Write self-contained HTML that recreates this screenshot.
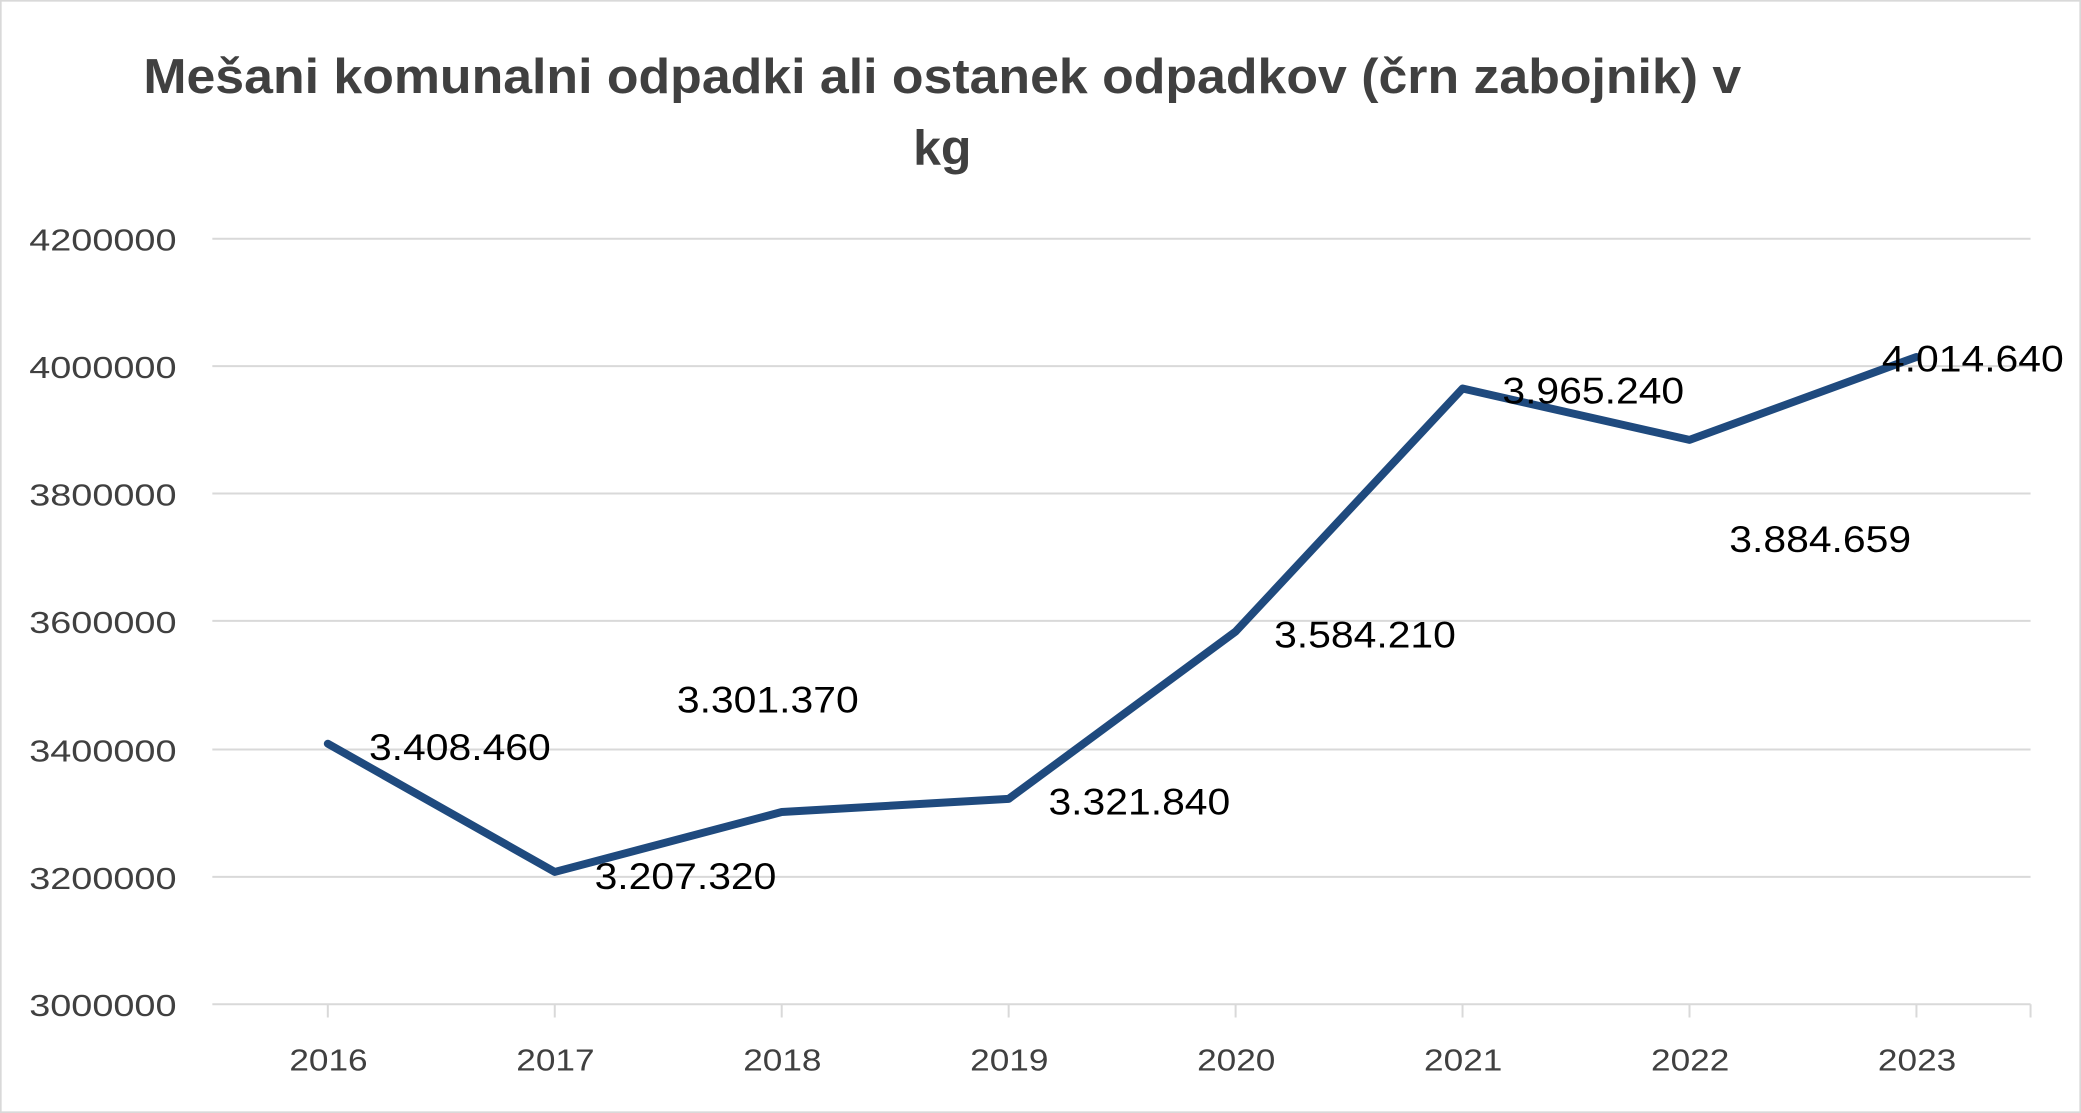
<!DOCTYPE html>
<html><head><meta charset="utf-8"><style>
html,body{margin:0;padding:0;background:#fff;}
svg{display:block;}
</style></head><body>
<svg width="2081" height="1113" viewBox="0 0 1568 839" xmlns="http://www.w3.org/2000/svg" preserveAspectRatio="none">
<rect x="0.5" y="0.5" width="1567" height="838" fill="#fff" stroke="#d9d9d9" stroke-width="1.5"/>
<g font-family="Liberation Sans, sans-serif" font-weight="bold" font-size="37" fill="#404040">
<text x="108" y="70" textLength="1204" lengthAdjust="spacingAndGlyphs">Mešani komunalni odpadki ali ostanek odpadkov (črn zabojnik) v</text>
<text x="688" y="124" textLength="44" lengthAdjust="spacingAndGlyphs">kg</text>
</g>
<g stroke="#d9d9d9" stroke-width="1.5">
<line x1="160" y1="180" x2="1530" y2="180"/>
<line x1="160" y1="276" x2="1530" y2="276"/>
<line x1="160" y1="372" x2="1530" y2="372"/>
<line x1="160" y1="468" x2="1530" y2="468"/>
<line x1="160" y1="565" x2="1530" y2="565"/>
<line x1="160" y1="661" x2="1530" y2="661"/>
<line x1="160" y1="757" x2="1530" y2="757"/>
<line x1="247" y1="757" x2="247" y2="767"/><line x1="418" y1="757" x2="418" y2="767"/>
<line x1="589" y1="757" x2="589" y2="767"/><line x1="760" y1="757" x2="760" y2="767"/>
<line x1="931" y1="757" x2="931" y2="767"/><line x1="1102" y1="757" x2="1102" y2="767"/>
<line x1="1273" y1="757" x2="1273" y2="767"/><line x1="1444" y1="757" x2="1444" y2="767"/>
<line x1="1530" y1="757" x2="1530" y2="767"/>
</g>
<g font-family="Liberation Sans, sans-serif" font-size="23" fill="#404040">
<text x="22" y="189" textLength="111" lengthAdjust="spacingAndGlyphs">4200000</text>
<text x="22" y="285" textLength="111" lengthAdjust="spacingAndGlyphs">4000000</text>
<text x="22" y="381" textLength="111" lengthAdjust="spacingAndGlyphs">3800000</text>
<text x="22" y="477" textLength="111" lengthAdjust="spacingAndGlyphs">3600000</text>
<text x="22" y="574" textLength="111" lengthAdjust="spacingAndGlyphs">3400000</text>
<text x="22" y="670" textLength="111" lengthAdjust="spacingAndGlyphs">3200000</text>
<text x="22" y="766" textLength="111" lengthAdjust="spacingAndGlyphs">3000000</text>
</g>
<g font-family="Liberation Sans, sans-serif" font-size="23" fill="#404040">
<text x="218" y="807" textLength="59" lengthAdjust="spacingAndGlyphs">2016</text>
<text x="389" y="807" textLength="59" lengthAdjust="spacingAndGlyphs">2017</text>
<text x="560" y="807" textLength="59" lengthAdjust="spacingAndGlyphs">2018</text>
<text x="731" y="807" textLength="59" lengthAdjust="spacingAndGlyphs">2019</text>
<text x="902" y="807" textLength="59" lengthAdjust="spacingAndGlyphs">2020</text>
<text x="1073" y="807" textLength="59" lengthAdjust="spacingAndGlyphs">2021</text>
<text x="1244" y="807" textLength="59" lengthAdjust="spacingAndGlyphs">2022</text>
<text x="1415" y="807" textLength="59" lengthAdjust="spacingAndGlyphs">2023</text>
</g>
<polyline fill="none" stroke="#1f4a7e" stroke-width="6" stroke-linejoin="round" stroke-linecap="round"
points="247,560.6 418,657.3 589,612.1 760,602.2 931,476.1 1102,292.9 1273,331.6 1444,269.1"/>
<g font-family="Liberation Sans, sans-serif" font-size="28" fill="#000" lengthAdjust="spacingAndGlyphs">
<text x="278" y="573" textLength="137" lengthAdjust="spacingAndGlyphs">3.408.460</text>
<text x="448" y="670" textLength="137" lengthAdjust="spacingAndGlyphs">3.207.320</text>
<text x="510" y="537" textLength="137" lengthAdjust="spacingAndGlyphs">3.301.370</text>
<text x="790" y="614" textLength="137" lengthAdjust="spacingAndGlyphs">3.321.840</text>
<text x="960" y="488" textLength="137" lengthAdjust="spacingAndGlyphs">3.584.210</text>
<text x="1132" y="304" textLength="137" lengthAdjust="spacingAndGlyphs">3.965.240</text>
<text x="1303" y="416" textLength="137" lengthAdjust="spacingAndGlyphs">3.884.659</text>
<text x="1418" y="280" textLength="137" lengthAdjust="spacingAndGlyphs">4.014.640</text>
</g>
</svg>
</body></html>
